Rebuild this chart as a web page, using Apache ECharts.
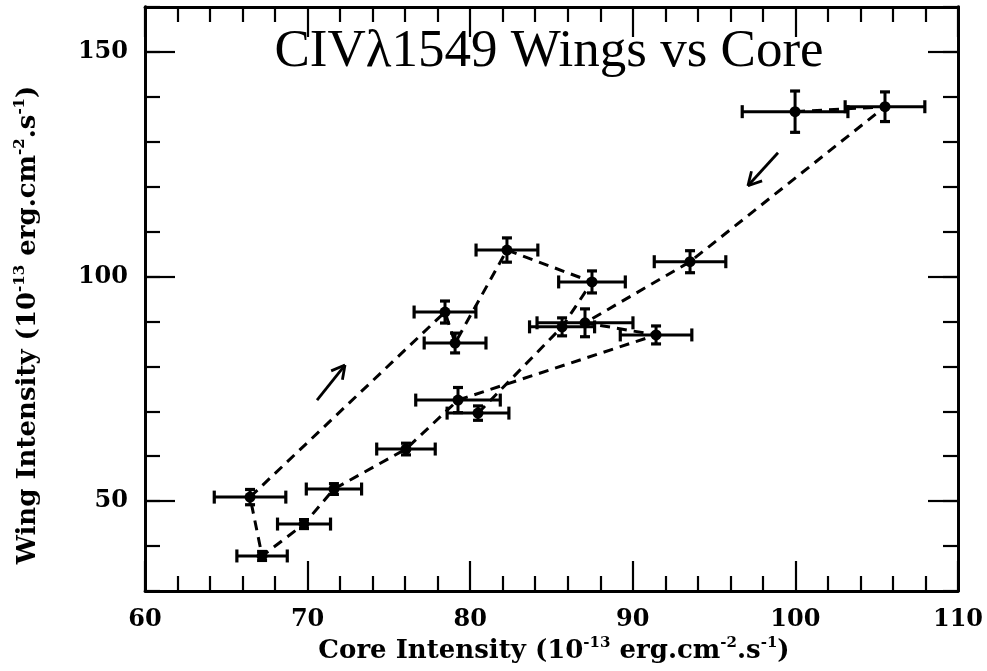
<!DOCTYPE html>
<html>
<head>
<meta charset="utf-8">
<style>html,body{margin:0;padding:0;background:#fff;}#c{width:987px;height:671px;}</style>
<script src="https://cdn.jsdelivr.net/npm/echarts@6/dist/echarts.min.js"></script>
</head>
<body>
<div id="c"></div>
<script>
// Observations in time order (core intensity, wing intensity, errors)
const core    = [99.98, 105.51, 93.52, 87.06, 91.43, 79.25, 76.05, 71.62, 69.78, 67.2, 66.46, 78.45, 79.07, 82.26, 87.49, 85.65, 80.48];
const wing    = [136.7, 137.8, 103.3, 89.7, 87.0, 72.5, 61.6, 52.7, 44.9, 37.8, 50.9, 92.1, 85.2, 105.9, 98.8, 88.8, 69.6];
const coreErr = [3.25, 2.45, 2.2, 2.95, 2.2, 2.6, 1.8, 1.7, 1.63, 1.55, 2.2, 1.9, 1.9, 1.9, 2.05, 2.0, 1.9];
const wingErr = [4.6, 3.3, 2.45, 3.1, 2.0, 2.8, 1.3, 1.2, 1.0, 1.0, 1.7, 2.45, 2.2, 2.7, 2.45, 2.0, 1.6];
// direction arrows: [x0, y0, x1, y1] (head at x1,y1)
const arrowUp   = [70.58, 72.5, 72.3, 80.3];
const arrowDown = [98.93, 127.55, 97.08, 120.2];
const xTicks = [60, 70, 80, 90, 100, 110];
const yTicks = [50, 100, 150];

const chart = echarts.init(document.getElementById('c'), null, {renderer: 'canvas'});
const points = core.map((c, i) => [c, wing[i]]);
const errRows = core.map((c, i) => [c, wing[i], coreErr[i], wingErr[i]]);
const arrows = [arrowUp, arrowDown];

function seg(a, b, w) { return {type: 'line', shape: {x1: a[0], y1: a[1], x2: b[0], y2: b[1]}, style: {stroke: '#000', lineWidth: w || 2.5}}; }

function renderErr(params, api) {
  const x = api.value(0), y = api.value(1), ex = api.value(2), ey = api.value(3);
  const l = api.coord([x - ex, y]), r = api.coord([x + ex, y]);
  const t = api.coord([x, y + ey]), b = api.coord([x, y - ey]);
  const hc = 6.5, vc = 5;
  return {type: 'group', children: [
    seg(l, r, 3),
    seg([l[0], l[1] - hc], [l[0], l[1] + hc], 3.2),
    seg([r[0], r[1] - hc], [r[0], r[1] + hc], 3.2),
    seg(t, b, 3),
    seg([t[0] - vc, t[1]], [t[0] + vc, t[1]], 3.2),
    seg([b[0] - vc, b[1]], [b[0] + vc, b[1]], 3.2)
  ]};
}
function renderArrow(params, api) {
  const p0 = api.coord([api.value(0), api.value(1)]);
  const p1 = api.coord([api.value(2), api.value(3)]);
  const ang = Math.atan2(p1[1] - p0[1], p1[0] - p0[0]);
  const L = 15, da = 0.5;
  const h1 = [p1[0] - L * Math.cos(ang - da), p1[1] - L * Math.sin(ang - da)];
  const h2 = [p1[0] - L * Math.cos(ang + da), p1[1] - L * Math.sin(ang + da)];
  return {type: 'group', children: [seg(p0, p1, 2.8), seg(p1, h1, 2.8), seg(p1, h2, 2.8)]};
}

const labelFont = 'DejaVu Serif';
function xAx(pos, showLabel) {
  return {
    type: 'value', position: pos, min: 60, max: 110, interval: 10,
    axisLine: {show: true, onZero: false, lineStyle: {color: '#000', width: 2.8}},
    axisTick: {show: true, inside: true, length: 30, lineStyle: {color: '#000', width: 2.2}},
    minorTick: {show: true, splitNumber: 5, length: 15, lineStyle: {color: '#000', width: 2.2}},
    axisLabel: {show: showLabel, margin: 17, color: '#000', fontFamily: labelFont, fontWeight: 'bold', fontSize: 24,
      formatter: v => xTicks.includes(v) ? String(v) : ''},
    splitLine: {show: false}
  };
}
function yAx(pos, showLabel, major) {
  const a = {
    type: 'value', position: pos, min: 30, max: 160, interval: 10,
    axisLine: {show: true, onZero: false, lineStyle: {color: '#000', width: 2.8}},
    axisTick: {show: true, inside: true, length: 15, lineStyle: {color: '#000', width: 2.2}},
    axisLabel: {show: showLabel, margin: 17, color: '#000', fontFamily: labelFont, fontWeight: 'bold', fontSize: 24,
      formatter: v => yTicks.includes(v) ? String(v) : ''},
    splitLine: {show: false}
  };
  if (major) {
    a.axisTick = {show: true, inside: true, length: 30, customValues: yTicks, lineStyle: {color: '#000', width: 2.2}};
    a.axisLabel = {show: false};
  }
  return a;
}

const sup = {fontSize: 15, fontFamily: labelFont, fontWeight: 'bold', fill: '#000', padding: [0, 0, 16, 0]};
const nrm = {fontSize: 26, fontFamily: labelFont, fontWeight: 'bold', fill: '#000'};
const nameText = (w) => '{n|' + w + ' Intensity (10}{s|-13}{n| erg.cm}{s|-2}{n|.s}{s|-1}{n|)}';

chart.setOption({
  animation: false,
  backgroundColor: '#fff',
  grid: {left: 145, right: 29, top: 7, bottom: 80, containLabel: false},
  xAxis: [xAx('bottom', true), xAx('top', false)],
  yAxis: [yAx('left', true, false), yAx('left', false, true), yAx('right', false, false), yAx('right', false, true)],
  graphic: [
    {type: 'text', x: 549, y: 52, style: {text: 'CIVλ1549 Wings vs Core', font: '53px "Liberation Serif"', fill: '#000', textAlign: 'center', textVerticalAlign: 'middle'}},
    {type: 'text', x: 554, y: 651, style: {text: nameText('Core'), rich: {n: nrm, s: sup}, textAlign: 'center', textVerticalAlign: 'middle'}},
    {type: 'text', x: 28, y: 325, rotation: Math.PI / 2, style: {text: nameText('Wing'), rich: {n: nrm, s: sup}, textAlign: 'center', textVerticalAlign: 'middle'}}
  ],
  series: [
    {type: 'custom', name: 'errors', xAxisIndex: 0, yAxisIndex: 0, renderItem: renderErr, data: errRows, z: 3, silent: true},
    {type: 'line', name: 'path', xAxisIndex: 0, yAxisIndex: 0, data: points, symbol: 'circle', symbolSize: 11,
      itemStyle: {color: '#000'}, lineStyle: {color: '#000', width: 3, type: [10, 7]}, z: 4},
    {type: 'custom', name: 'arrows', xAxisIndex: 0, yAxisIndex: 0, renderItem: renderArrow, data: arrows, z: 5, silent: true}
  ]
});
</script>
</body>
</html>
